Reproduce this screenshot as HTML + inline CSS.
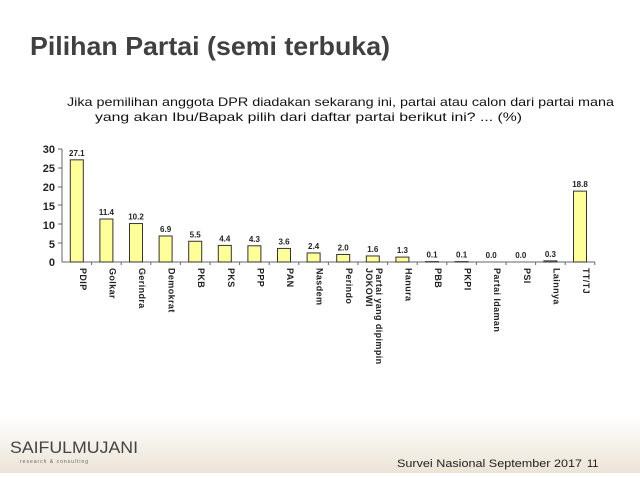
<!DOCTYPE html>
<html><head><meta charset="utf-8"><style>
body{margin:0;width:640px;height:473px;overflow:hidden;background:#fff;font-family:"Liberation Sans",sans-serif}
</style></head><body>
<svg width="640" height="473" xmlns="http://www.w3.org/2000/svg">
<defs><linearGradient id="g" x1="0" y1="0" x2="0" y2="1"><stop offset="0" stop-color="#fff"/><stop offset="1" stop-color="#ece4d6"/></linearGradient></defs>
<rect x="0" y="415" width="640" height="58" fill="url(#g)"/>
<text x="30" y="55" font-size="26" font-weight="bold" fill="#404040" textLength="360" lengthAdjust="spacingAndGlyphs">Pilihan Partai (semi terbuka)</text>
<text x="67" y="106" font-size="12" fill="#111" textLength="547" lengthAdjust="spacingAndGlyphs">Jika pemilihan anggota DPR diadakan sekarang ini,  partai atau calon dari partai mana</text>
<text x="95" y="121" font-size="12" fill="#111" textLength="427" lengthAdjust="spacingAndGlyphs">yang akan Ibu/Bapak pilih dari daftar partai berikut ini? ... (%)</text>
<g font-size="11" font-weight="bold" fill="#222" text-anchor="end">
<text x="55" y="153">30</text><text x="55" y="172">25</text><text x="55" y="191">20</text><text x="55" y="210">15</text><text x="55" y="229">10</text><text x="55" y="248">5</text><text x="55" y="266">0</text>
</g>
<g stroke="#666" stroke-width="1">
<line x1="62" y1="149" x2="62" y2="262"/>
<line x1="62" y1="262" x2="595" y2="262"/>
<line x1="58" y1="149" x2="62" y2="149"/><line x1="58" y1="168" x2="62" y2="168"/><line x1="58" y1="187" x2="62" y2="187"/><line x1="58" y1="205" x2="62" y2="205"/><line x1="58" y1="224" x2="62" y2="224"/><line x1="58" y1="243" x2="62" y2="243"/>
</g>
<g id="bars"></g>
<text x="10" y="453" font-size="17" fill="#444" textLength="128" lengthAdjust="spacingAndGlyphs">SAIFULMUJANI</text>
<text x="20" y="463" font-size="5" fill="#666" letter-spacing="1">research &amp; consulting</text>
<text x="397" y="467" font-size="11" fill="#222" textLength="185" lengthAdjust="spacingAndGlyphs">Survei Nasional September 2017</text>
<text x="587" y="467" font-size="11" fill="#222">11</text>
</svg>
<script>
var d=[["PDIP",27.1],["Golkar",11.4],["Gerindra",10.2],["Demokrat",6.9],["PKB",5.5],["PKS",4.4],["PPP",4.3],["PAN",3.6],["Nasdem",2.4],["Perindo",2.0],["Partai yang dipimpin|JOKOWI",1.6],["Hanura",1.3],["PBB",0.1],["PKPI",0.1],["Partai Idaman",0.0],["PSI",0.0],["Lainnya",0.3],["TT/TJ",18.8]];
var s="",w=29.6;
d.forEach(function(e,i){var c=62+w/2+w*i;var h=e[1]*3.77;var y=262-h;
if(e[1]>0)s+='<rect x="'+(c-6.5)+'" y="'+y+'" width="13" height="'+h+'" fill="#ffff99" stroke="#333" stroke-width="1"/>';
s+='<text x="'+c+'" y="'+(y-4)+'" font-size="8" font-weight="bold" text-anchor="middle" fill="#222">'+e[1].toFixed(1)+'</text>';
s+='<line x1="'+(c+w/2)+'" y1="262" x2="'+(c+w/2)+'" y2="265" stroke="#666"/>';
var p=e[0].split("|");
s+='<text transform="translate('+(c+3)+',268) rotate(90)" font-size="9" font-weight="bold" fill="#222" letter-spacing="0.4">'+p[0]+'</text>';
if(p[1])s+='<text transform="translate('+(c-7)+',268) rotate(90)" font-size="9" font-weight="bold" fill="#222" letter-spacing="0.4">'+p[1]+'</text>';
});
document.getElementById("bars").innerHTML=s;
</script>
</body></html>
